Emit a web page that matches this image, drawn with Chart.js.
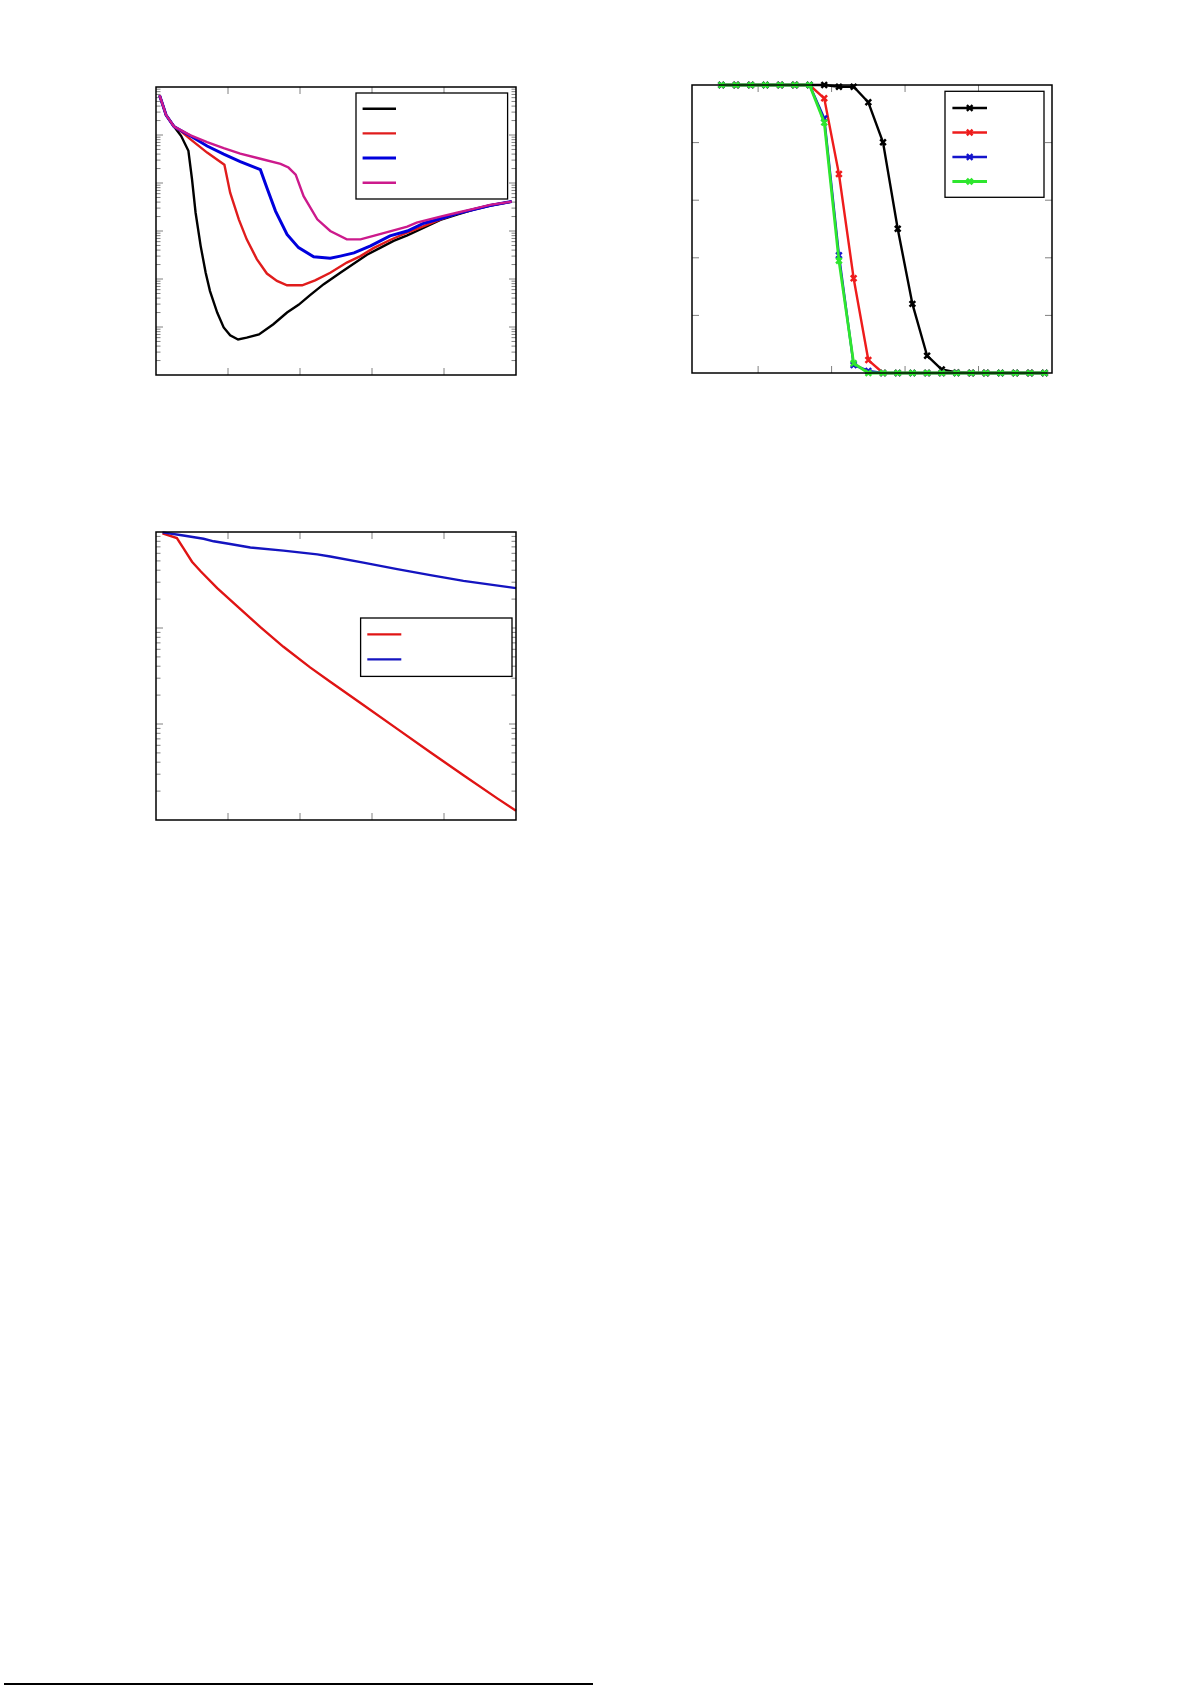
<!DOCTYPE html>
<html>
<head>
<meta charset="utf-8">
<script src="https://cdn.jsdelivr.net/npm/chart.js@4.4.1/dist/chart.umd.min.js"></script>
<style>
  html, body { margin: 0; padding: 0; background: #fff; overflow: hidden; }
  body { width: 1191px; height: 1685px; position: relative; }
  canvas { position: absolute; }
  #rule { position: absolute; left: 4px; top: 1683px; width: 589px; height: 1.5px; background: #000; }
</style>
</head>
<body>
<canvas id="c1" width="400" height="328" style="left:136px;top:67px"></canvas>
<canvas id="c2" width="400" height="328" style="left:672px;top:65px"></canvas>
<canvas id="c3" width="400" height="328" style="left:136px;top:512px"></canvas>
<div id="rule"></div>
<script>
// ---- chart 1 (log y) ----
const blackX1 = [0.5,1.4,2.5,3.5,4.5,5.0,5.5,6.2,6.9,7.5,8.5,9.4,10.3,11.4,12.6,14.3,16.3,18.2,19.8,21.4,23.3,25.6,27.5,29.3,31.2,33.0,34.9,37.2,39.5,41.8,44.1,46.4,49.4];
const blackY1 = [0.67,0.26,0.15,0.095,0.047,0.012,2.4e-3,4.9e-4,1.35e-4,5.6e-5,2.0e-5,9.8e-6,6.7e-6,5.5e-6,6.0e-6,7.0e-6,1.14e-5,2.0e-5,2.9e-5,4.6e-5,7.8e-5,1.35e-4,2.1e-4,3.2e-4,4.5e-4,6.2e-4,8.1e-4,1.17e-3,1.7e-3,2.2e-3,2.8e-3,3.4e-3,4.1e-3];
const redX1 = [0.5,1.4,2.5,3.6,4.8,7.1,9.5,10.3,11.5,12.6,14.0,15.4,16.8,18.2,20.3,22.1,24.2,26.5,28.4,30.2,32.5,34.9,37.2,39.5,41.8,44.1,46.4,49.4];
const redY1 = [0.67,0.26,0.15,0.115,0.081,0.043,0.024,6.3e-3,1.75e-3,6.7e-4,2.6e-4,1.3e-4,9.1e-5,7.4e-5,7.4e-5,9.4e-5,1.35e-4,2.2e-4,3.0e-4,4.4e-4,6.5e-4,9.3e-4,1.27e-3,1.75e-3,2.3e-3,2.8e-3,3.4e-3,4.1e-3];
const blueX1 = [0.5,1.4,2.5,4.8,7.1,9.4,11.7,14.5,15.4,16.6,18.2,19.8,21.9,24.2,25.6,27.5,29.8,32.5,34.9,37.2,39.5,41.8,44.1,46.4,49.4];
const blueY1 = [0.67,0.26,0.15,0.095,0.059,0.040,0.028,0.019,8.0e-3,2.6e-3,8.5e-4,4.5e-4,2.9e-4,2.7e-4,3.0e-4,3.5e-4,4.9e-4,7.9e-4,1.0e-3,1.45e-3,1.8e-3,2.3e-3,2.8e-3,3.4e-3,4.1e-3];
const magX1 = [0.5,1.4,2.5,4.8,7.1,9.4,11.7,14.5,17.3,18.4,19.4,20.5,22.4,24.2,26.5,28.4,30.2,32.5,34.9,36.2,39.5,41.8,44.1,46.4,49.4];
const magY1 = [0.67,0.26,0.15,0.098,0.071,0.053,0.041,0.032,0.025,0.021,0.015,5.3e-3,1.75e-3,1.0e-3,6.7e-4,6.7e-4,7.9e-4,9.8e-4,1.23e-3,1.5e-3,2.0e-3,2.4e-3,2.9e-3,3.5e-3,4.1e-3];
const xTicks1 = [10, 20, 30, 40];
const yTicks1 = [1e-5, 1e-4, 1e-3, 1e-2, 1e-1];

// ---- chart 2 (linear, markers) ----
const x2 = [0.10,0.14,0.18,0.22,0.26,0.30,0.34,0.38,0.42,0.46,0.50,0.54,0.58,0.62,0.66,0.70,0.74,0.78,0.82,0.86,0.90,0.94,0.98];
const black2 = [1,1,1,1,1,1,1,1,0.994,0.994,0.94,0.801,0.501,0.24,0.06,0.012,0.002,0,0,0,0,0,0];
const red2   = [1,1,1,1,1,1,1,0.954,0.691,0.329,0.045,0,0,0,0,0,0,0,0,0,0,0,0];
const blue2  = [1,1,1,1,1,1,1,0.884,0.409,0.028,0.007,0,0,0,0,0,0,0,0,0,0,0,0];
const green2 = [1,1,1,1,1,1,1,0.870,0.390,0.034,0,0,0,0,0,0,0,0,0,0,0,0,0];
const xTicks2 = [0.2, 0.4, 0.6, 0.8];
const yTicks2 = [0.2, 0.4, 0.6, 0.8];

// ---- chart 3 (log y) ----
const redX3 = [0.9,2.9,3.8,5.0,6.2,8.5,11.3,14.5,17.7,21.4,24.2,28.8,33.5,38.1,42.7,47.4,50];
const redY3 = [0.97,0.865,0.68,0.49,0.39,0.26,0.168,0.102,0.0637,0.0389,0.0275,0.0158,0.0089,0.00507,0.00292,0.00168,0.00125];
const blueX3 = [0.9,3.8,6.6,8.0,10.3,13.1,17.7,22.4,24.2,28.8,33.5,38.1,42.7,50];
const blueY3 = [0.99,0.92,0.85,0.80,0.75,0.69,0.64,0.585,0.555,0.479,0.411,0.356,0.310,0.26];
const xTicks3 = [10, 20, 30, 40];
const yTicks3 = [1e-2, 1e-1];

const pts = (xs, ys) => xs.map((x, i) => ({x: x, y: ys[i]}));

// ticks inside the frame, frame border and an in-plot legend without text
const framePlugin = {
  id: 'frame',
  beforeDatasetsDraw(chart, args, o) {
    const ctx = chart.ctx, a = chart.chartArea, xs = chart.scales.x, ys = chart.scales.y;
    ctx.save();
    ctx.strokeStyle = '#808080';
    ctx.lineWidth = 1;
    const seg = (x1, y1, x2, y2) => { ctx.beginPath(); ctx.moveTo(x1, y1); ctx.lineTo(x2, y2); ctx.stroke(); };
    o.xTicks.forEach(v => {
      const px = xs.getPixelForValue(v);
      seg(px, a.bottom, px, a.bottom - 7);
      seg(px, a.top, px, a.top + 7);
    });
    o.yTicks.forEach(v => {
      const py = ys.getPixelForValue(v);
      seg(a.left, py, a.left + 7, py);
      seg(a.right, py, a.right - 7, py);
    });
    if (o.logMinor) {
      for (let e = Math.round(Math.log10(ys.min)); e < Math.round(Math.log10(ys.max)); e++) {
        for (let k = 2; k <= 9; k++) {
          const py = ys.getPixelForValue(k * Math.pow(10, e));
          seg(a.left, py, a.left + 4.5, py);
          seg(a.right, py, a.right - 4.5, py);
        }
      }
    }
    ctx.restore();
  },
  afterDatasetsDraw(chart, args, o) {
    const ctx = chart.ctx, a = chart.chartArea;
    ctx.save();
    ctx.strokeStyle = '#000';
    ctx.lineWidth = 1.5;
    ctx.strokeRect(a.left, a.top, a.width, a.height);
    const L = o.legend;
    ctx.fillStyle = '#fff';
    ctx.fillRect(a.left + L.x0, a.top + L.y0, L.x1 - L.x0, L.y1 - L.y0);
    ctx.lineWidth = 1.3;
    ctx.strokeRect(a.left + L.x0, a.top + L.y0, L.x1 - L.x0, L.y1 - L.y0);
    chart.data.datasets.forEach((ds, i) => {
      const y = a.top + L.first + i * L.step;
      ctx.strokeStyle = ds.borderColor;
      ctx.lineWidth = ds.borderWidth;
      ctx.beginPath();
      ctx.moveTo(a.left + L.lx0, y);
      ctx.lineTo(a.left + L.lx1, y);
      ctx.stroke();
      if (ds.pointRadius > 0) {
        Chart.helpers.drawPoint(ctx, {pointStyle: ds.pointStyle, radius: ds.pointRadius, borderWidth: ds.pointBorderWidth, rotation: 0},
          a.left + (L.lx0 + L.lx1) / 2, y);
      }
    });
    ctx.restore();
  }
};

function makeChart(id, datasets, xMin, xMax, yType, yMin, yMax, frame) {
  return new Chart(document.getElementById(id), {
    type: 'line',
    data: { datasets: datasets },
    options: {
      responsive: false,
      animation: false,
      layout: { padding: 20 },
      plugins: { legend: { display: false }, tooltip: { enabled: false }, frame: frame },
      scales: {
        x: { type: 'linear', min: xMin, max: xMax, display: false },
        y: { type: yType, min: yMin, max: yMax, display: false }
      }
    },
    plugins: [framePlugin]
  });
}

const lineDs = (xs, ys, color, w, order) => ({
  data: pts(xs, ys), borderColor: color, borderWidth: w, pointRadius: 0,
  tension: 0, fill: false, order: order, clip: false
});
const markDs = (xs, ys, color, w, order) => ({
  data: pts(xs, ys), borderColor: color, backgroundColor: color, borderWidth: w,
  pointStyle: 'crossRot', pointRadius: 4, pointBorderWidth: 2.5, pointBorderColor: color,
  tension: 0, fill: false, order: order, clip: false
});

makeChart('c1', [
  lineDs(blackX1, blackY1, '#000000', 2.4, 4),
  lineDs(redX1, redY1, '#e01c1c', 2.4, 3),
  lineDs(blueX1, blueY1, '#0000dd', 3, 2),
  lineDs(magX1, magY1, '#cc1a8c', 2.4, 1)
], 0, 50, 'logarithmic', 1e-6, 1, {
  xTicks: xTicks1, yTicks: yTicks1, logMinor: true,
  legend: { x0: 200, y0: 6, x1: 351.6, y1: 112, first: 21.7, step: 24.7, lx0: 206.6, lx1: 240 }
});

makeChart('c2', [
  markDs(x2, black2, '#000000', 2.4, 4),
  markDs(x2, red2, '#ee1c1c', 2.4, 3),
  markDs(x2, blue2, '#1414cc', 2.4, 2),
  markDs(x2, green2, '#2ee62e', 2.8, 1)
], 0.02, 1.0, 'linear', 0, 1, {
  xTicks: xTicks2, yTicks: yTicks2, logMinor: false,
  legend: { x0: 253, y0: 6.3, x1: 352, y1: 112.3, first: 23, step: 24.5, lx0: 260.4, lx1: 295 }
});

makeChart('c3', [
  lineDs(redX3, redY3, '#e01414', 2.4, 2),
  lineDs(blueX3, blueY3, '#1414c0', 2.4, 1)
], 0, 50, 'logarithmic', 1e-3, 1, {
  xTicks: xTicks3, yTicks: yTicks3, logMinor: true,
  legend: { x0: 204.6, y0: 86, x1: 356, y1: 144.4, first: 102.4, step: 25, lx0: 211.3, lx1: 245.3 }
});
</script>
</body>
</html>
